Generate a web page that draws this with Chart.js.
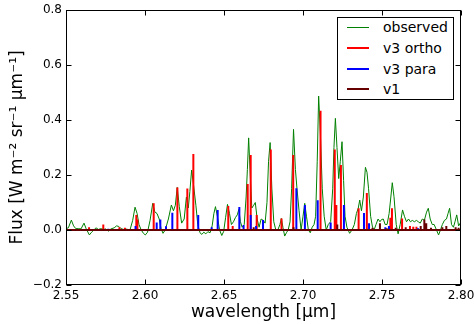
<!DOCTYPE html>
<html>
<head>
<meta charset="utf-8">
<script src="https://cdn.jsdelivr.net/npm/chart.js@4.4.1/dist/chart.umd.min.js"></script>
<style>
    body { margin: 0; background: #fff; }
    #wrap { position: relative; width: 474px; height: 324px; }
    #legend {
        position: absolute; left: 337px; top: 17px; width: 115px; height: 81px;
        border: 1px solid #000; background: #fff;
        font-family: "DejaVu Sans"; font-size: 14px; color: #000;
    }
    .row { position: absolute; left: 0; width: 115px; height: 20px; line-height: 20px; }
    .row .sample { position: absolute; left: 9px; width: 22px; }
    .row .txt { position: absolute; left: 45px; top: 0; white-space: nowrap; }
</style>
</head>
<body>
<div id="wrap">
    <canvas id="chart" width="474" height="324"></canvas>
    <div id="legend"></div>
</div>
<script>

const xLimits = [2.55, 2.80];
const yLimits = [-0.2, 0.8];

// observed spectrum
const obsWave = [
    2.5500, 2.5515, 2.5534, 2.5548, 2.5562, 2.5578, 2.5595, 2.5614, 2.5628, 2.5648,
    2.5662, 2.5676, 2.5690, 2.5705, 2.5720, 2.5738, 2.5752, 2.5768, 2.5785, 2.5805,
    2.5820, 2.5834, 2.5848, 2.5865, 2.5885, 2.5905, 2.5922, 2.5937, 2.5950, 2.5962,
    2.5976, 2.5990, 2.6002, 2.6016, 2.6032, 2.6049, 2.6062, 2.6076, 2.6090, 2.6102,
    2.6114, 2.6128, 2.6148, 2.6167, 2.6180, 2.6192, 2.6204, 2.6217, 2.6232, 2.6248,
    2.6262, 2.6274, 2.6284, 2.6295, 2.6308, 2.6322, 2.6334, 2.6348, 2.6360, 2.6372,
    2.6385, 2.6398, 2.6412, 2.6425, 2.6436, 2.6446, 2.6458, 2.6472, 2.6486, 2.6498,
    2.6510, 2.6522, 2.6535, 2.6547, 2.6560, 2.6572, 2.6584, 2.6594, 2.6604, 2.6615,
    2.6628, 2.6640, 2.6648, 2.6656, 2.6666, 2.6676, 2.6688, 2.6698, 2.6710, 2.6722,
    2.6735, 2.6748, 2.6760, 2.6772, 2.6782, 2.6792, 2.6803, 2.6815, 2.6828, 2.6842,
    2.6854, 2.6863, 2.6873, 2.6884, 2.6895, 2.6906, 2.6918, 2.6928, 2.6940, 2.6952,
    2.6962, 2.6975, 2.6988, 2.7000, 2.7011, 2.7022, 2.7034, 2.7046, 2.7058, 2.7070,
    2.7080, 2.7090, 2.7099, 2.7110, 2.7122, 2.7134, 2.7147, 2.7160, 2.7175, 2.7188,
    2.7196, 2.7205, 2.7215, 2.7226, 2.7236, 2.7247, 2.7257, 2.7266, 2.7278, 2.7295,
    2.7310, 2.7325, 2.7338, 2.7350, 2.7359, 2.7370, 2.7382, 2.7395, 2.7405, 2.7415,
    2.7428, 2.7440, 2.7450, 2.7462, 2.7475, 2.7487, 2.7497, 2.7508, 2.7520, 2.7532,
    2.7545, 2.7556, 2.7565, 2.7576, 2.7590, 2.7602, 2.7615, 2.7630, 2.7642, 2.7655,
    2.7668, 2.7680, 2.7692, 2.7705, 2.7718, 2.7730, 2.7742, 2.7755, 2.7768, 2.7782,
    2.7793, 2.7805, 2.7818, 2.7830, 2.7845, 2.7858, 2.7870, 2.7882, 2.7895, 2.7908,
    2.7918, 2.7928, 2.7940, 2.7952, 2.7962, 2.7973, 2.7985, 2.7995, 2.8000
];
const obsFlux = [
    0.005, 0.008, 0.036, 0.015, 0.005, 0.005, 0.004, 0.025, 0.004, -0.018,
    -0.008, 0.000, 0.008, 0.002, 0.005, 0.002, 0.004, -0.004, 0.004, 0.008,
    0.015, 0.013, 0.005, 0.002, 0.003, 0.000, 0.035, 0.083, 0.060, 0.020,
    0.000, -0.012, -0.018, -0.008, 0.035, 0.097, 0.066, 0.060, 0.040, 0.005,
    -0.012, 0.000, 0.040, 0.091, 0.070, 0.090, 0.155, 0.085, 0.025, 0.040,
    0.120, 0.080, 0.140, 0.218, 0.160, 0.090, 0.020, -0.010, -0.016, -0.008,
    -0.014, -0.006, -0.010, 0.015, 0.060, 0.085, 0.050, 0.000, -0.020, -0.005,
    0.045, 0.093, 0.060, 0.020, 0.030, 0.045, 0.055, 0.075, 0.030, 0.010,
    0.020, 0.120, 0.220, 0.335, 0.200, 0.080, 0.090, 0.100, 0.040, 0.010,
    0.040, 0.035, 0.025, 0.100, 0.250, 0.318, 0.150, 0.030, 0.000, 0.002,
    0.020, 0.042, 0.010, -0.022, -0.010, 0.000, 0.030, 0.150, 0.366, 0.220,
    0.150, 0.070, 0.000, 0.050, 0.097, 0.050, 0.000, -0.010, 0.010, 0.020,
    0.050, 0.250, 0.487, 0.350, 0.150, 0.050, 0.000, 0.020, 0.030, 0.150,
    0.300, 0.406, 0.300, 0.187, 0.250, 0.321, 0.180, 0.050, 0.010, -0.012,
    0.000, 0.020, 0.060, 0.080, 0.109, 0.070, 0.120, 0.228, 0.210, 0.150,
    0.050, 0.010, 0.000, 0.020, 0.040, 0.030, 0.038, 0.040, 0.020, 0.020,
    0.060, 0.120, 0.172, 0.121, 0.020, -0.014, 0.020, 0.073, 0.050, 0.030,
    0.040, 0.030, 0.035, 0.030, 0.035, 0.030, 0.025, 0.040, 0.035, 0.065,
    0.079, 0.040, 0.020, 0.020, 0.000, -0.018, 0.000, 0.020, 0.035, 0.040,
    0.060, 0.079, 0.020, 0.010, 0.030, 0.055, 0.015, 0.025, 0.030
];

// model lines
const orthoWave = [
    2.5646, 2.5736, 2.5838, 2.5873, 2.5945, 2.5952, 2.6055, 2.6205, 2.6268, 2.6306,
    2.6527, 2.6555, 2.6650, 2.6669, 2.6707, 2.6796, 2.6864, 2.6938, 2.7111, 2.7201,
    2.7211, 2.7240, 2.7352, 2.7404, 2.7553, 2.7563, 2.7627, 2.7677, 2.7698, 2.7718
];
const orthoFlux = [
    0.010, 0.020, 0.010, 0.008, 0.055, 0.038, 0.097, 0.155, 0.151, 0.276,
    0.087, 0.015, 0.167, 0.273, 0.055, 0.293, 0.042, 0.273, 0.434, 0.293,
    0.091, 0.236, 0.079, 0.135, 0.045, 0.079, 0.042, 0.015, 0.012, 0.012
];

const paraWave = [
    2.5768, 2.5940, 2.6074, 2.6097, 2.6133, 2.6173, 2.6337, 2.6422, 2.6460, 2.6597,
    2.6624, 2.6669, 2.6703, 2.6747, 2.6958, 2.7012, 2.7093, 2.7175, 2.7259, 2.7386,
    2.7418, 2.7521, 2.7544, 2.7728
];
const paraFlux = [
    0.005, 0.015, 0.027, 0.038, 0.014, 0.063, 0.055, 0.010, 0.073, 0.084,
    0.018, 0.055, 0.015, 0.036, 0.152, 0.091, 0.108, 0.027, 0.091, 0.062,
    0.025, 0.010, 0.015, 0.006
];

const v1Wave = [
    2.6430, 2.6688, 2.6940, 2.7217, 2.7440, 2.7487, 2.7530, 2.7587, 2.7650, 2.7745,
    2.7768, 2.7780, 2.7810, 2.7882, 2.7907, 2.7966, 2.7985
];
const v1Flux = [
    0.004, 0.010, 0.010, 0.020, 0.008, 0.025, 0.006, 0.008, 0.010, 0.015,
    0.038, 0.025, 0.008, 0.010, 0.015, 0.010, 0.008
];

const seriesNames = ["observed", "v3 ortho", "v3 para", "v1"];
const seriesColors = ["#008000", "#ff0000", "#0000ff", "#660000"];

const xTicksStep = 0.05;
const yTicksStep = 0.2;

// sticks go up and back down to zero, so the baseline is part of each line
function stickPoints(waves, heights) {
    const pts = [{ x: xLimits[0], y: 0 }];
    waves.forEach((w, i) => {
        pts.push({ x: w, y: 0 }, { x: w, y: heights[i] }, { x: w, y: 0 });
    });
    pts.push({ x: xLimits[1], y: 0 });
    return pts;
}

const observedPoints = obsWave.map((w, i) => ({ x: w, y: obsFlux[i] }));

// frame and inward ticks like matplotlib
const framePlugin = {
    id: "frame",
    afterDraw(chart) {
        const { ctx, chartArea: a, scales } = chart;
        ctx.save();
        ctx.strokeStyle = "#000";
        ctx.lineWidth = 1;
        const L = Math.round(a.left) + 0.5, R = Math.round(a.right) - 0.5;
        const T = Math.round(a.top) + 0.5, B = Math.round(a.bottom) - 0.5;
        ctx.strokeRect(L, T, R - L, B - T);
        const tl = 5;
        ctx.beginPath();
        scales.x.ticks.forEach(t => {
            const px = Math.round(scales.x.getPixelForValue(t.value)) + 0.5;
            ctx.moveTo(px, B); ctx.lineTo(px, B - tl);
            ctx.moveTo(px, T); ctx.lineTo(px, T + tl);
        });
        scales.y.ticks.forEach(t => {
            const py = Math.round(scales.y.getPixelForValue(t.value)) + 0.5;
            ctx.moveTo(L, py); ctx.lineTo(L + tl, py);
            ctx.moveTo(R, py); ctx.lineTo(R - tl, py);
        });
        ctx.stroke();
        ctx.restore();
    }
};

Chart.defaults.font.family = "DejaVu Sans";
Chart.defaults.color = "#000";

const ctx = document.getElementById("chart").getContext("2d");

const chart = new Chart(ctx, {
    type: "line",
    data: {
        datasets: [
            {
                label: seriesNames[0],
                data: observedPoints,
                borderColor: seriesColors[0],
                borderWidth: 1,
                order: 4
            },
            {
                label: seriesNames[1],
                data: stickPoints(orthoWave, orthoFlux),
                borderColor: seriesColors[1],
                borderWidth: 2,
                order: 3
            },
            {
                label: seriesNames[2],
                data: stickPoints(paraWave, paraFlux),
                borderColor: seriesColors[2],
                borderWidth: 2,
                order: 2
            },
            {
                label: seriesNames[3],
                data: stickPoints(v1Wave, v1Flux),
                borderColor: seriesColors[3],
                borderWidth: 2,
                order: 1
            }
        ]
    },
    options: {
        responsive: false,
        animation: false,
        events: [],
        elements: {
            point: { radius: 0 },
            line: { tension: 0, borderJoinStyle: "bevel", fill: false }
        },
        layout: { padding: { left: 0, right: 13, top: 10, bottom: 0 } },
        plugins: {
            legend: { display: false },
            tooltip: { enabled: false }
        },
        scales: {
            x: {
                type: "linear",
                min: xLimits[0],
                max: xLimits[1],
                grid: { display: false, drawTicks: false },
                border: { display: false },
                ticks: {
                    stepSize: xTicksStep,
                    font: { size: 12 },
                    padding: 4,
                    maxRotation: 0,
                    callback: v => v.toFixed(2)
                },
                title: {
                    display: true,
                    text: "wavelength [μm]",
                    font: { size: 17 },
                    padding: { top: 0, bottom: 1 }
                },
                afterFit: scale => {
                    scale.height = 39;
                    scale.paddingLeft = 0;
                    scale.paddingRight = 0;
                }
            },
            y: {
                min: yLimits[0],
                max: yLimits[1],
                grid: { display: false, drawTicks: false },
                border: { display: false },
                ticks: {
                    stepSize: yTicksStep,
                    font: { size: 12 },
                    padding: 4,
                    callback: v => {
                        if (Math.abs(v) < 1e-9) return "0.0";
                        return (v < 0 ? "\u2212" : "") + Math.abs(v).toFixed(1);
                    }
                },
                title: {
                    display: true,
                    text: "Flux [W m\u207B\u00B2 sr\u207B\u00B9 \u03BCm\u207B\u00B9]",
                    font: { size: 17 },
                    padding: { top: 7, bottom: 0 }
                },
                afterFit: scale => {
                    scale.width = 66;
                    scale.paddingTop = 0;
                    scale.paddingBottom = 0;
                }
            }
        }
    },
    plugins: [framePlugin]
});

// legend box drawn as html, built from the datasets
const legendEl = document.getElementById("legend");
chart.data.datasets.forEach((ds, i) => {
    const row = document.createElement("div");
    row.className = "row";
    row.style.top = (9.3 + i * 20.6 - 10) + "px";
    const lw = ds.borderWidth;
    row.innerHTML = `<span class="sample" style="top:${10 - lw / 2}px;height:${lw}px;background:${ds.borderColor}"></span>
        <span class="txt">${ds.label}</span>`;
    legendEl.appendChild(row);
});

</script>
</body>
</html>
